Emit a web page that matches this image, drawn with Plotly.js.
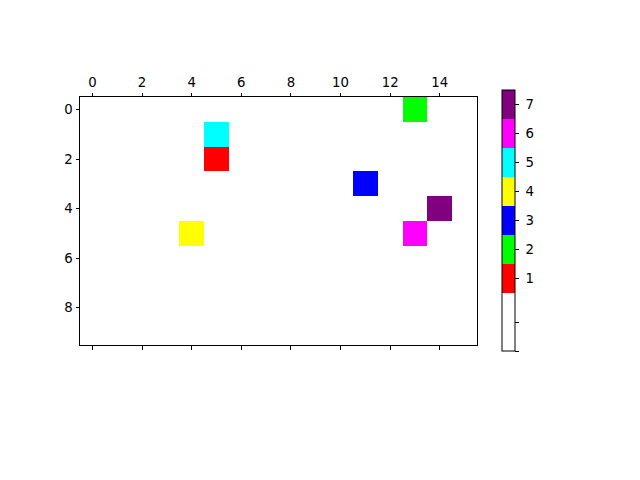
<!DOCTYPE html>
<html>
<head>
<meta charset="utf-8">
<script src="https://cdn.plot.ly/plotly-3.0.1.min.js"></script>
<style>html,body{margin:0;padding:0;background:#fff;}#chart{width:640px;height:480px;}</style>
</head>
<body>
<div id="chart"></div>
<script>
// Grid size
const nRows = 10;
const nCols = 16;
// Non-empty cells
const cellRows = [0, 1, 2, 3, 4, 5, 5];
const cellCols = [13, 5, 5, 11, 14, 4, 13];
const cellValues = [2, 5, 1, 3, 7, 4, 6];
// Colour per level (1..7), level 0 = empty
const levelColors = ['#ffffff', '#ff0000', '#00ff00', '#0000ff', '#ffff00', '#00ffff', '#ff00ff', '#800080'];
const cbTickVals = [-1.5, -0.5, 1, 2, 3, 4, 5, 6, 7];
const cbTickText = ['', '', '1', '2', '3', '4', '5', '6', '7'];

const z = [];
for (let r = 0; r < nRows; r++) { z.push(new Array(nCols).fill(0)); }
cellRows.forEach((r, i) => { z[r][cellCols[i]] = cellValues[i]; });

const zmin = -1.5, zmax = 7.5, span = zmax - zmin;
const colorscale = [];
colorscale.push([0, levelColors[0]]);
colorscale.push([(0.5 - zmin) / span, levelColors[0]]);
for (let k = 1; k <= 7; k++) {
  colorscale.push([(k - 0.5 - zmin) / span, levelColors[k]]);
  colorscale.push([(k + 0.5 - zmin) / span, levelColors[k]]);
}

const trace = {
  type: 'heatmap',
  z: z,
  zmin: zmin, zmax: zmax,
  colorscale: colorscale,
  zsmooth: false,
  hoverinfo: 'none',
  colorbar: {
    x: (502 - 80) / 397, xanchor: 'left',
    y: (345 - 220.5) / 248, yanchor: 'middle',
    lenmode: 'pixels', len: 261,
    thickness: 13,
    outlinewidth: 1, outlinecolor: '#000',
    tickmode: 'array', tickvals: cbTickVals,
    ticktext: cbTickText.map(t => t ? '\u00a0' + t : t),
    ticks: 'outside', ticklen: 3.5, tickwidth: 1, tickcolor: '#000',
    tickfont: {family: 'DejaVu Sans', size: 13.3, color: '#000'},
    xpad: 0, ypad: 0
  }
};

const layout = {
  width: 640, height: 480,
  margin: {l: 80, r: 163, t: 97, b: 135},
  paper_bgcolor: '#fff', plot_bgcolor: '#fff',
  font: {family: 'DejaVu Sans', size: 13.3, color: '#000'},
  xaxis: {
    side: 'top', range: [-0.5, 15.5],
    tickmode: 'array', tickvals: [0, 2, 4, 6, 8, 10, 12, 14],
    ticks: 'outside', ticklen: 3.5, tickwidth: 1, tickcolor: '#000',
    showline: true, linecolor: '#000', linewidth: 1, mirror: 'ticks',
    showgrid: false, zeroline: false, fixedrange: true
  },
  yaxis: {
    range: [9.5, -0.5],
    tickmode: 'array', tickvals: [0, 2, 4, 6, 8],
    ticks: 'outside', ticklen: 3.5, tickwidth: 1, tickcolor: '#000',
    showline: true, linecolor: '#000', linewidth: 1, mirror: true,
    showgrid: false, zeroline: false, fixedrange: true
  }
};

Plotly.newPlot('chart', [trace], layout, {displayModeBar: false, staticPlot: true});
</script>
</body>
</html>
